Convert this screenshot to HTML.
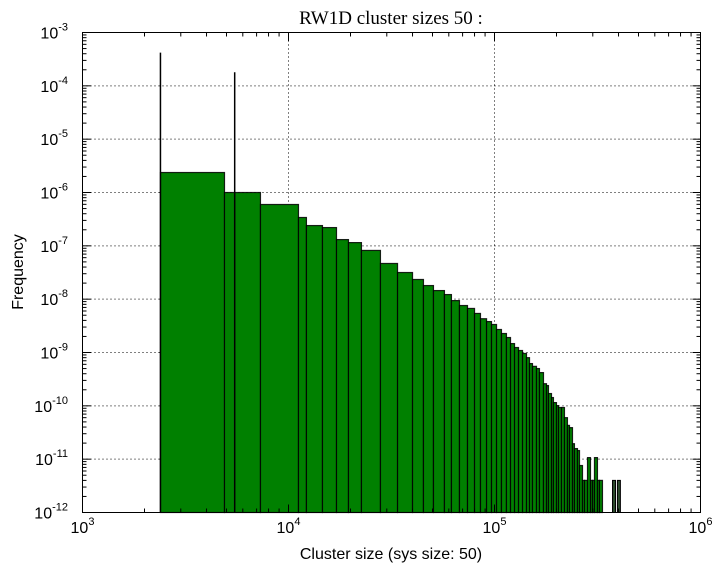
<!DOCTYPE html>
<html><head><meta charset="utf-8"><style>
body{margin:0;background:#fff;}
svg text{font-family:"Liberation Sans",sans-serif;}
</style></head><body>
<svg id="chart" width="726" height="574" xmlns="http://www.w3.org/2000/svg">
<rect width="726" height="574" fill="#fff"/>
<g id="grid"></g>
<g id="bars"></g>
<rect x="82.5" y="32.5" width="618" height="480" fill="none" stroke="#000" stroke-width="1"/>
<g id="ticks"></g>
<text x="391" y="24" text-anchor="middle" style="font-family:'Liberation Serif',serif;font-size:19px">RW1D cluster sizes 50 :</text>
<text x="391" y="559" text-anchor="middle" font-size="16">Cluster size (sys size: 50)</text>
<text transform="translate(23,272) rotate(-90)" text-anchor="middle" font-size="16">Frequency</text>
</svg>
<script>
const binEdges=[2390,4890,7310,11180,12220,14620,17100,19550,22600,27950,33830,40000,45200,50550,57150,61800,67600,73950,80000,85500,91500,96700,102300,108100,114300,119600,125100,130800,136800,143000,147900,152900,159900,165300,172900,178800,182800,189100,193300,199900,204500,211400,218600,226000,231200,239100,244400,252800,258600,267400,273500,282800,292400,299000,305700,316100,323300,334300];
const freqs=[2.37e-6,1.0e-6,5.96e-7,3.4e-7,2.4e-7,2.2e-7,1.31e-7,1.15e-7,8.2e-8,4.67e-8,3.16e-8,2.34e-8,1.8e-8,1.45e-8,1.22e-8,9.4e-9,7.6e-9,6.7e-9,5.4e-9,4.3e-9,3.8e-9,3.35e-9,2.7e-9,2.27e-9,1.91e-9,1.47e-9,1.24e-9,1.09e-9,9.6e-10,8.0e-10,6.2e-10,5.5e-10,5.0e-10,4.2e-10,2.6e-10,2.4e-10,1.7e-10,1.43e-10,1.15e-10,1.01e-10,9.3e-11,9.3e-11,6.0e-11,4.3e-11,3.9e-11,1.95e-11,1.58e-11,1.45e-11,7.6e-12,4.0e-12,4.0e-12,1.07e-11,4.0e-12,4.0e-12,1.07e-11,4.0e-12,4.0e-12];
const spikeX=[2390,5480];
const spikeF=[4.2e-4,1.8e-4];
const extraBinsX=[374000,395000];
const extraBinsF=[4.0e-12,4.0e-12];
const xTicks=[3,4,5,6];
const yTicks=[-3,-4,-5,-6,-7,-8,-9,-10,-11,-12];
const X0=82.5,X1=700.5,Y0=32.5,Y1=512.5;
function xs(v){return X0+(Math.log10(v)-3)/3*(X1-X0);}
function ys(v){return Y0+(-3-Math.log10(v))/9*(Y1-Y0);}
const NS="http://www.w3.org/2000/svg";
function mk(t,a,p){const e=document.createElementNS(NS,t);for(const k in a)e.setAttribute(k,a[k]);p.appendChild(e);return e;}
const grid=document.getElementById('grid'),bars=document.getElementById('bars'),ticks=document.getElementById('ticks');
xTicks.forEach(t=>{const x=xs(Math.pow(10,t));
 if(t>3&&t<6){const l=mk('line',{x1:x,x2:x,y1:Y0,y2:Y1,stroke:'#000','stroke-dasharray':'1,3','stroke-width':1},grid);
 }
 const tx=mk('text',{x:x,y:533,'text-anchor':'middle','font-size':16},ticks);
 
 tx.innerHTML='10<tspan dy="-8" font-size="11">'+t+'</tspan>';
 mk('line',{x1:x,x2:x,y1:Y1,y2:Y1-8,stroke:'#000'},ticks);mk('line',{x1:x,x2:x,y1:Y0,y2:Y0+8,stroke:'#000'},ticks);
 if(t<6)for(let m=2;m<10;m++){const xm=xs(m*Math.pow(10,t));mk('line',{x1:xm,x2:xm,y1:Y1,y2:Y1-4,stroke:'#000'},ticks);mk('line',{x1:xm,x2:xm,y1:Y0,y2:Y0+4,stroke:'#000'},ticks);}
});
yTicks.forEach(t=>{const y=ys(Math.pow(10,t));
 if(t>-12&&t<-3){const l=mk('line',{x1:X0,x2:X1,y1:y,y2:y,stroke:'#000','stroke-dasharray':'1,3','stroke-width':1},grid);
 }
 const tx=mk('text',{x:68,y:y+6,'text-anchor':'end','font-size':16},ticks);
 
 tx.innerHTML='10<tspan dy="-8" font-size="11">'+t+'</tspan>';
 mk('line',{x1:X0,x2:X0+8,y1:y,y2:y,stroke:'#000'},ticks);mk('line',{x1:X1,x2:X1-8,y1:y,y2:y,stroke:'#000'},ticks);
 if(t>-12)for(let m=2;m<10;m++){const ym=ys(m*Math.pow(10,t-1));mk('line',{x1:X0,x2:X0+4,y1:ym,y2:ym,stroke:'#000'},ticks);mk('line',{x1:X1,x2:X1-4,y1:ym,y2:ym,stroke:'#000'},ticks);}
});
for(let i=0;i<freqs.length;i++){const x1=xs(binEdges[i]),x2=xs(binEdges[i+1]),y=ys(freqs[i]);
 const r=mk('rect',{x:x1,y:y,width:Math.max(x2-x1,0.5),height:Y1-y,fill:'#008000',stroke:'#000','stroke-width':1.2,'stroke-opacity':0.85},bars);
 }
for(let i=0;i<extraBinsX.length;i++){const x1=xs(extraBinsX[i]),y=ys(extraBinsF[i]);
 const r=mk('rect',{x:x1,y:y,width:3,height:Y1-y,fill:'#2a4a2a',stroke:'#000','stroke-width':1},bars);
 }
for(let i=0;i<spikeX.length;i++){const x=xs(spikeX[i]);
 const l=mk('line',{x1:x,x2:x,y1:ys(spikeF[i]),y2:Y1,stroke:'#000','stroke-width':1.5},bars);
 }
</script>
</body></html>
